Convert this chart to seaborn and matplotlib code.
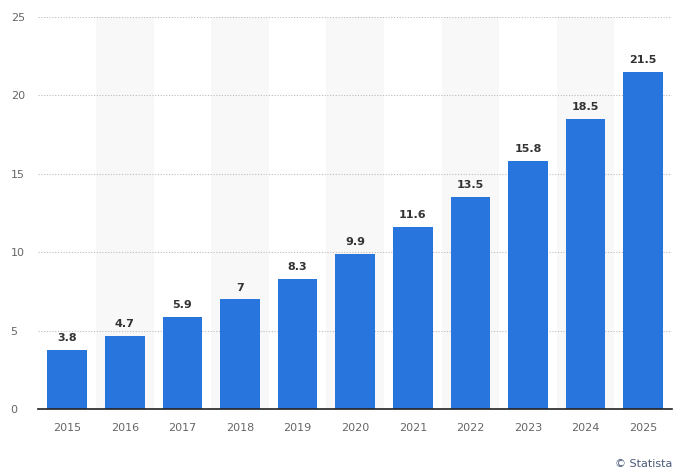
import matplotlib
matplotlib.use('Agg')
import matplotlib.pyplot as plt
import seaborn as sns
import pandas as pd

years = ['2015', '2016', '2017', '2018', '2019', '2020',
         '2021', '2022', '2023', '2024', '2025']
values = [3.8, 4.7, 5.9, 7, 8.3, 9.9, 11.6, 13.5, 15.8, 18.5, 21.5]
value_labels = ['3.8', '4.7', '5.9', '7', '8.3', '9.9',
                '11.6', '13.5', '15.8', '18.5', '21.5']

sns.set_style('white')
plt.rcParams['font.family'] = ['DejaVu Sans']

fig = plt.figure(figsize=(6.74, 4.75), dpi=100)
axes = fig.add_axes([0.057, 0.138, 0.94, 0.827])

df = pd.DataFrame({'year': years, 'value': values})

# alternating column shading
for i in range(len(years)):
    if i % 2 == 1:
        axes.axvspan(i - 0.5, i + 0.5, color='#f8f8f8', zorder=0, lw=0)

sns.barplot(data=df, x='year', y='value', color='#2876dd', saturation=1,
            width=0.69, ax=axes, zorder=3, linewidth=0)

axes.set_xlim(-0.5, len(years) - 0.5)
axes.set_ylim(0, 25)
axes.set_yticks([0, 5, 10, 15, 20, 25])
axes.set(xlabel='', ylabel='')
axes.yaxis.grid(True, linestyle=(0, (1, 1.5)), color='#bbbbbb', linewidth=0.8, zorder=1)
axes.set_axisbelow(True)

for side in ['top', 'right', 'left']:
    axes.spines[side].set_visible(False)
axes.spines['bottom'].set_color('#222222')
axes.spines['bottom'].set_linewidth(1.2)
axes.spines['bottom'].set_zorder(4)

axes.tick_params(axis='both', length=0, labelsize=8, labelcolor='#666666')
axes.tick_params(axis='x', pad=10)
axes.tick_params(axis='y', pad=20)
for lbl in axes.get_yticklabels():
    lbl.set_horizontalalignment('left')

for bar, text in zip(axes.containers[0], value_labels):
    text_x = bar.get_x() + bar.get_width() / 2.0
    text_y = bar.get_height()
    axes.annotate(text, (text_x, text_y), xytext=(0, 5), textcoords='offset points',
                  ha='center', va='bottom', fontsize=8, fontweight='bold',
                  color='#333333')

fig.text(0.997, 0.012, '© Statista', ha='right', va='bottom', fontsize=8,
         color='#4a5a78')

fig.savefig('out.png', dpi=100)
